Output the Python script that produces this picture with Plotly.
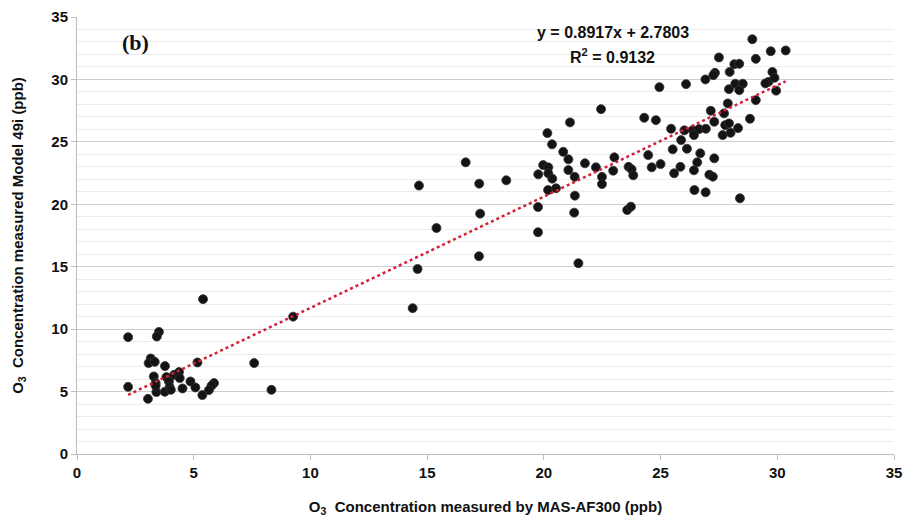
import plotly.graph_objects as go

x_vals = [
    5.40, 2.19, 3.51, 3.42, 3.16, 3.07, 3.33, 3.77, 5.16, 7.59, 3.29, 3.83, 4.16, 4.37, 4.40,
    3.37, 3.94, 3.97, 4.86, 2.19, 3.40, 3.76, 4.02, 4.52, 5.07, 5.87, 5.76, 5.65, 5.37, 3.04,
    8.33, 3.37, 9.26,
    14.38, 14.59, 15.40, 14.65, 16.65, 17.23, 17.27, 17.22, 18.39, 19.76, 19.75, 19.75, 19.97,
    20.19, 20.19, 20.36, 20.18, 20.52, 20.83, 21.05, 21.05, 21.32, 21.33, 21.30, 21.48, 21.76,
    22.23, 22.49, 22.49, 21.12, 20.15, 20.35,
    28.93, 29.72, 30.36, 27.50, 29.08, 28.16, 28.37, 27.96, 27.33, 27.26, 26.92, 29.79, 29.62,
    29.49, 29.88, 29.95, 29.08, 24.95, 26.09, 28.20, 28.52, 27.93, 28.37, 22.45, 27.88, 27.15,
    27.72, 28.83, 27.30, 24.30, 24.80, 25.45, 26.02, 26.38, 26.65, 26.94, 26.43, 27.77, 27.93,
    28.32, 27.66, 28.00, 25.88, 25.52, 26.13, 26.70, 24.47, 27.30, 23.02, 22.97, 23.63, 23.76,
    23.83, 24.62, 25.00, 25.85, 26.43, 26.57, 25.58, 27.09, 27.24, 26.45, 26.93, 28.40, 23.57,
    23.73,
]
y_vals = [
    12.40, 9.36, 9.78, 9.41, 7.65, 7.28, 7.38, 7.04, 7.33, 7.28, 6.21, 6.16, 6.34, 6.56, 6.08,
    5.68, 5.81, 5.36, 5.81, 5.38, 4.96, 4.98, 5.14, 5.25, 5.33, 5.68, 5.46, 5.12, 4.72, 4.42,
    5.14, 5.46, 11.00,
    11.68, 14.82, 18.10, 21.50, 23.36, 21.65, 19.25, 15.84, 21.92, 22.40, 19.78, 17.76, 23.14,
    22.96, 22.48, 22.05, 21.14, 21.28, 24.20, 23.60, 22.74, 22.20, 20.69, 19.33, 15.28, 23.28,
    22.96, 22.20, 21.62, 26.56, 25.70, 24.80,
    33.22, 32.26, 32.32, 31.76, 31.65, 31.22, 31.25, 30.60, 30.53, 30.34, 30.00, 30.60, 29.80,
    29.68, 30.13, 29.10, 28.34, 29.38, 29.62, 29.65, 29.65, 29.22, 29.14, 27.62, 28.08, 27.49,
    27.28, 26.85, 26.61, 26.93, 26.74, 26.05, 25.92, 25.94, 26.02, 26.05, 25.54, 26.34, 26.48,
    26.10, 25.54, 25.73, 25.14, 24.40, 24.45, 24.08, 23.94, 23.68, 23.76, 22.69, 23.00, 22.80,
    22.32, 22.96, 23.22, 23.00, 22.72, 23.36, 22.48, 22.37, 22.21, 21.14, 20.96, 20.48, 19.54,
    19.81,
]

slope = 0.8917
intercept = 2.7803
trend_x = [2.19, 30.36]
trend_y = [slope * v + intercept for v in trend_x]

x_ticks = [0, 5, 10, 15, 20, 25, 30, 35]
y_ticks = [0, 5, 10, 15, 20, 25, 30, 35]

fig = go.Figure()
fig.add_trace(go.Scatter(
    x=x_vals, y=y_vals, mode="markers",
    marker=dict(size=9, color="#141414", line=dict(width=0.8, color="#333333")),
    showlegend=False, hoverinfo="x+y",
))
fig.add_trace(go.Scatter(
    x=trend_x, y=trend_y, mode="lines",
    line=dict(color="#d4213a", width=2.5, dash="dot"),
    showlegend=False, hoverinfo="skip",
))

font_main = "Liberation Sans, Arial, sans-serif"

fig.update_layout(
    width=904, height=522,
    margin=dict(l=77, r=10, t=17, b=68),
    paper_bgcolor="white", plot_bgcolor="white",
    font=dict(family=font_main, color="#111111"),
    xaxis=dict(
        range=[0, 35], tickvals=x_ticks, ticktext=[str(t) for t in x_ticks],
        showgrid=False, zeroline=False, automargin=False,
        showline=True, linecolor="#bdbdbd", linewidth=1,
        ticks="outside", ticklen=5, tickcolor="#bdbdbd",
        tickfont=dict(size=15, family=font_main, color="#111111", weight="bold"),
        title=dict(text="O<sub>3</sub>  Concentration measured by MAS-AF300 (ppb)",
                   font=dict(size=15, family=font_main, color="#111111", weight="bold"),
                   standoff=21),
    ),
    yaxis=dict(
        range=[0, 35], tickvals=y_ticks, ticktext=[str(t) for t in y_ticks],
        showgrid=True, gridcolor="#cfcfcf", gridwidth=1, zeroline=False, automargin=False,
        showline=True, linecolor="#bdbdbd", linewidth=1,
        ticks="outside", ticklen=5, tickcolor="#bdbdbd",
        minor=dict(dtick=1, showgrid=True, gridcolor="#ececec", gridwidth=1, ticks=""),
        tickfont=dict(size=15, family=font_main, color="#111111", weight="bold"),
        title=dict(text="O<sub>3</sub>  Concentration measured Model 49i (ppb)",
                   font=dict(size=15, family=font_main, color="#111111", weight="bold"),
                   standoff=24),
    ),
    annotations=[
        dict(x=22.96, y=33.75, xref="x", yref="y", showarrow=False,
             text="y = 0.8917x + 2.7803",
             font=dict(size=16, family=font_main, color="#111111", weight="bold")),
        dict(x=22.96, y=31.9, xref="x", yref="y", showarrow=False,
             text="R<sup>2</sup> = 0.9132",
             font=dict(size=16, family=font_main, color="#111111", weight="bold")),
        dict(x=2.51, y=32.95, xref="x", yref="y", showarrow=False,
             text="(b)",
             font=dict(size=22, family="Liberation Serif, Times New Roman, serif",
                       color="#111111", weight="bold")),
    ],
)

fig.write_html("out.html")
